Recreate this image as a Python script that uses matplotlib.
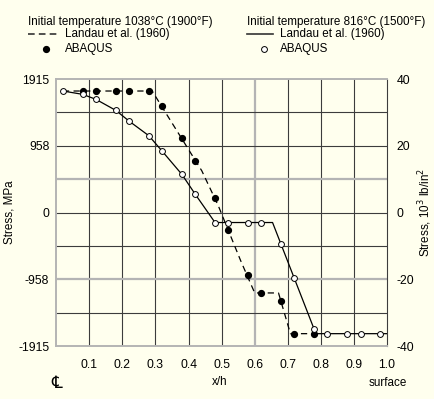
import numpy as np
import matplotlib
matplotlib.use('Agg')
import matplotlib.pyplot as plt

plt.rcParams['font.family'] = ['Liberation Sans', 'DejaVu Sans']

# stress values in 10^3 lb/in^2 (ksi)
# 1038 C (1900 F): Landau et al. (dashed) and ABAQUS (filled dots)
x_landau_hot = [0.02, 0.29, 0.33, 0.44, 0.49, 0.557, 0.60, 0.672, 0.708, 0.78]
y_landau_hot = [36.4, 36.4, 30.0, 12.5, 2.0, -14.3, -24.1, -24.1, -36.3, -36.3]
x_abaqus_hot = [0.08, 0.12, 0.18, 0.22, 0.28, 0.32, 0.38, 0.42, 0.48, 0.52, 0.58, 0.62, 0.68, 0.72, 0.78]
y_abaqus_hot = [36.4, 36.4, 36.4, 36.4, 36.4, 31.9, 22.4, 15.4, 4.3, -5.1, -18.7, -24.1, -26.4, -36.3, -36.3]

# 816 C (1500 F): Landau et al. (solid) and ABAQUS (open circles)
x_landau_cold = [0.02, 0.08, 0.12, 0.18, 0.22, 0.28, 0.32, 0.38, 0.42, 0.48, 0.654, 0.785, 1.0]
y_landau_cold = [36.4, 35.4, 33.9, 30.6, 27.4, 23.0, 18.4, 11.4, 5.5, -3.0, -3.0, -36.3, -36.3]
x_abaqus_cold = [0.02, 0.08, 0.12, 0.18, 0.22, 0.28, 0.32, 0.38, 0.42, 0.48, 0.52, 0.58, 0.62,
                 0.68, 0.72, 0.78, 0.82, 0.88, 0.92, 0.98]
y_abaqus_cold = [36.4, 35.4, 33.9, 30.6, 27.4, 23.0, 18.4, 11.4, 5.5, -3.0, -3.0, -3.0, -3.0,
                 -9.5, -19.7, -34.8, -36.3, -36.3, -36.3, -36.3]

x_ticks = [0.1, 0.2, 0.3, 0.4, 0.5, 0.6, 0.7, 0.8, 0.9, 1.0]
y_ticks = [-40, -20, 0, 20, 40]
mpa_labels = ['-1915', '-958', '0', '958', '1915']
ksi_labels = ['-40', '-20', '0', '20', '40']

bg = '#ffffee'
fs = 8.4
fig = plt.figure(figsize=(4.35, 3.99), dpi=100, facecolor=bg)
ax = fig.add_axes((0.1294, 0.1328, 0.7602, 0.6692), facecolor=bg)

# grid (some lines look lighter in the original)
for gx in np.arange(0.1, 1.0, 0.1):
    light = abs(gx - 0.6) < 1e-6
    ax.axvline(gx, color='#b4b4b4' if light else '#3c3c3c', lw=1.6 if light else 0.8, zorder=1)
for gy in np.arange(-30, 40, 10):
    light = gy in (10, -20)
    ax.axhline(gy, color='#b4b4b4' if light else '#3c3c3c', lw=1.6 if light else 0.8, zorder=1)

ax.plot(x_landau_hot, y_landau_hot, color='black', lw=0.9, dashes=(5, 3.5), zorder=2)
ax.plot(x_landau_cold, y_landau_cold, color='black', lw=0.9, zorder=2)
ax.plot(x_abaqus_hot, y_abaqus_hot, 'o', color='black', ms=4.2, zorder=3)
ax.plot(x_abaqus_cold, y_abaqus_cold, 'o', mfc='white', mec='black', mew=0.7, ms=4.2, zorder=3)

ax.set_xlim(0, 1.0)
ax.set_ylim(-40, 40)
ax.set_xticks(x_ticks)
ax.set_xticklabels([f'{v:.1f}' for v in x_ticks])
ax.set_yticks(y_ticks)
ax.set_yticklabels(mpa_labels)
ax.tick_params(length=0, labelsize=8.8, pad=5)
ax.tick_params(axis='x', pad=9)
for s in ['left', 'top', 'bottom']:
    ax.spines[s].set_color('#b4b4b4')
    ax.spines[s].set_linewidth(1.4)
ax.spines['right'].set_color('#3c3c3c')
ax.spines['right'].set_linewidth(0.8)
ax.set_ylabel('Stress, MPa', fontsize=fs)
ax.yaxis.set_label_coords(-0.122, 0.5)

ax2 = ax.twinx()
ax2.set_ylim(-40, 40)
ax2.set_yticks(y_ticks)
ax2.set_yticklabels(ksi_labels)
ax2.tick_params(length=0, labelsize=8.8, pad=7)
for s in ax2.spines.values():
    s.set_visible(False)
ax2.set_ylabel('Stress, 10$^3$ lb/in$^2$', fontsize=fs)
ax2.yaxis.set_label_coords(1.09, 0.5)

# bottom annotations
fig.text(56.5 / 435, 1 - 383 / 399, '\u2104', fontsize=12, ha='center', va='center')
fig.text(220 / 435, 1 - 382 / 399, 'x/h', fontsize=fs, ha='center', va='center')
fig.text(388 / 435, 1 - 383 / 399, 'surface', fontsize=fs, ha='center', va='center')

# legend block
def fx(px):
    return px / 435

def fy(py):
    return 1 - py / 399

fig.text(fx(28), fy(21.5), 'Initial temperature 1038\u00b0C (1900\u00b0F)', fontsize=fs, va='center')
fig.add_artist(plt.Line2D([fx(28), fx(58)], [fy(34), fy(34)], color='#333333', lw=1.2, dashes=(4, 2.5)))
fig.text(fx(65), fy(34), 'Landau et al. (1960)', fontsize=fs, va='center')
fig.add_artist(plt.Line2D([fx(46)], [fy(49)], marker='o', color='black', ms=4.2))
fig.text(fx(65), fy(49), 'ABAQUS', fontsize=fs, va='center')

fig.text(fx(247), fy(21.5), 'Initial temperature 816\u00b0C (1500\u00b0F)', fontsize=fs, va='center')
fig.add_artist(plt.Line2D([fx(247), fx(273)], [fy(34), fy(34)], color='#333333', lw=1.2))
fig.text(fx(280), fy(34), 'Landau et al. (1960)', fontsize=fs, va='center')
fig.add_artist(plt.Line2D([fx(264)], [fy(49)], marker='o', mfc='white', mec='black', mew=0.7, ms=4.2))
fig.text(fx(280), fy(49), 'ABAQUS', fontsize=fs, va='center')

fig.savefig('out.png', dpi=100, facecolor=bg)
